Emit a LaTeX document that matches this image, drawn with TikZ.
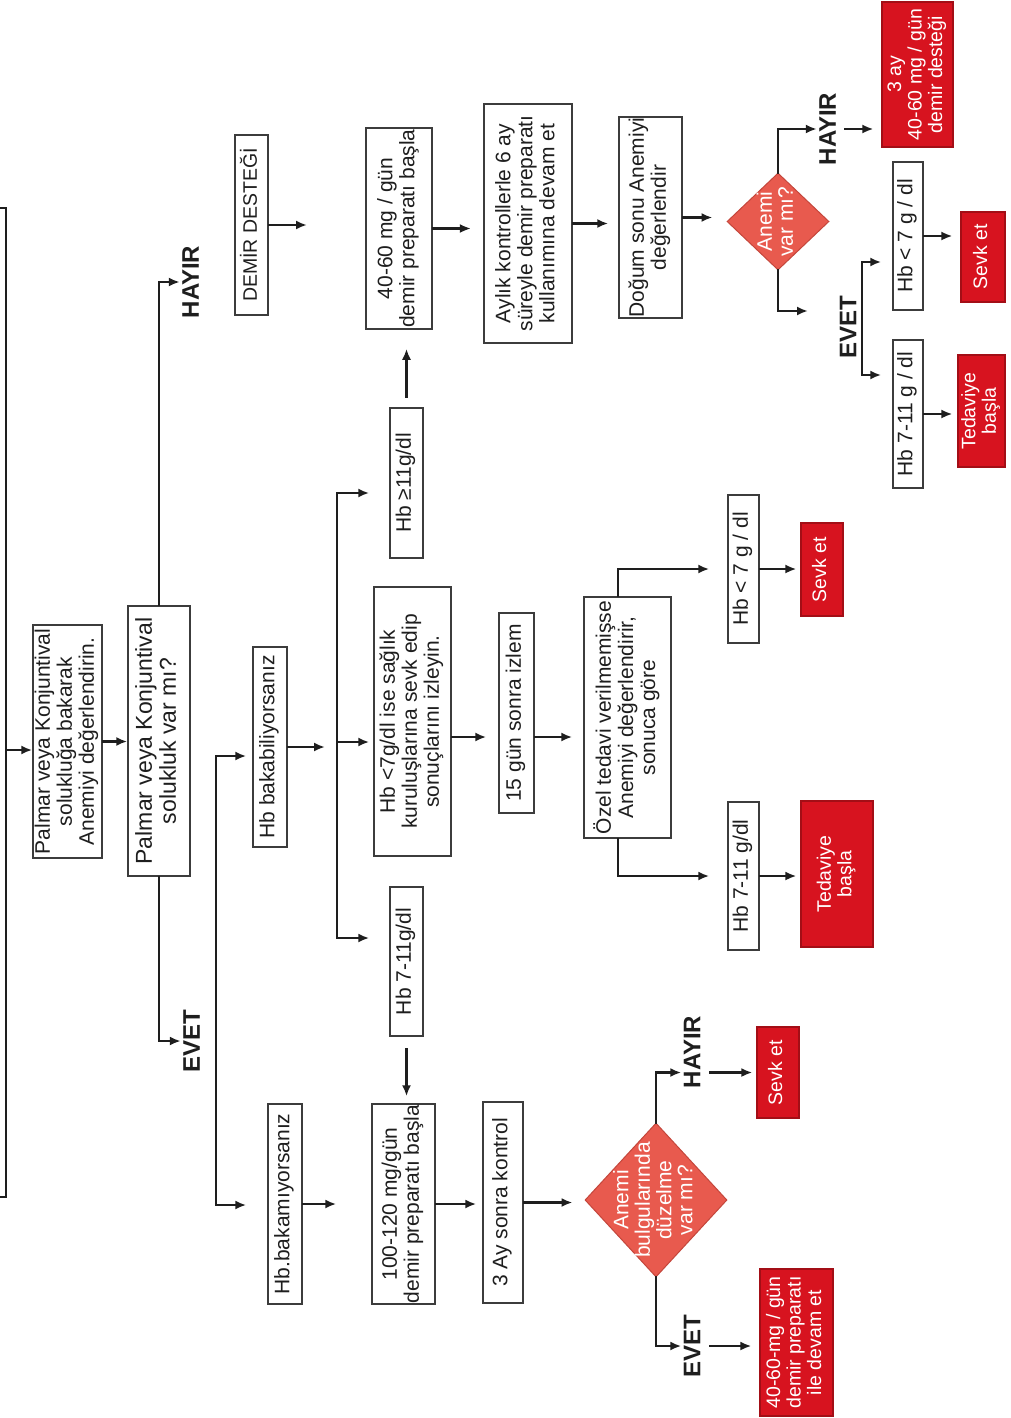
\documentclass[tikz,border=0pt]{standalone}
\usepackage{fontspec}
\setmainfont{Liberation Sans}
\usetikzlibrary{shapes.geometric,arrows.meta,calc}
\definecolor{ink}{HTML}{1E1E1E}
\definecolor{edge}{HTML}{3C3C3C}
\definecolor{alarm}{HTML}{D7131F}
\definecolor{alarmdark}{HTML}{A30E16}
\definecolor{coral}{HTML}{E85A4E}
\definecolor{coraldark}{HTML}{C4463B}
\newcommand{\rt}[1]{\rotatebox{90}{\begin{tabular}{@{}c@{}}#1\end{tabular}}}

\begin{document}
\begin{tikzpicture}[
      x=1pt, y=-1pt,
      box/.style={rectangle, draw=edge, line width=1.5pt, fill=white, text=ink,
                  inner sep=0pt, font=\fontsize{21}{22}\selectfont},
      redbox/.style={rectangle, draw=alarmdark, line width=1.2pt, fill=alarm, text=white,
                     inner sep=0pt, font=\fontsize{19.5}{20.5}\selectfont},
      ask/.style={diamond, draw=coraldark, line width=1pt, fill=coral, inner sep=0pt},
      asktext/.style={text=white, inner sep=0pt, font=\fontsize{21}{21}\selectfont},
      tag/.style={inner sep=2pt, text=ink, font=\fontsize{24}{24}\selectfont\bfseries},
      sz/.style 2 args={minimum width=#1pt, minimum height=#2pt},
      wire/.style={line width=2.4pt, draw=ink, line cap=rect},
      arr/.style={wire, -{Latex[length=11pt,width=9pt]}}
    ]
      \useasboundingbox (0,0) rectangle (1010,1418);
      \fill[white] (0,0) rectangle (1010,1418);

      \node[box, sz={69}{233}] (p1) at (67.5,741.5) {\rt{Palmar veya Konjuntival\\solukluğa bakarak\\Anemiyi değerlendirin.}};
      \node[box, sz={62}{270}, font=\fontsize{23}{24}\selectfont] (p2) at (159,741) {\rt{Palmar veya Konjuntival\\solukluk var mı?}};
      \node[tag] (h1) at (194,282) {\rt{HAYIR}};
      \node[tag] (e1) at (195,1041) {\rt{EVET}};
      \node[box, sz={33}{180}, font=\fontsize{19.5}{20}\selectfont] (dd) at (251.5,225) {\rt{DEMİR DESTEĞİ}};
      \node[box, sz={34}{200}] (hbb) at (270,747) {\rt{Hb bakabiliyorsanız}};
      \node[box, sz={34}{200}] (hbn) at (285,1204) {\rt{Hb.bakamıyorsanız}};

      \node[box, sz={66}{201}] (b40) at (399,228.5) {\rt{40-60 mg / gün\\demir preparatı başla}};
      \node[box, sz={33}{150}] (g11) at (406.5,483) {\rt{Hb ≥11g/dl}};
      \node[box, sz={77}{269}] (g7) at (412.5,721.5) {\rt{Hb <7g/dl ise sağlık\\kuruluşlarına sevk edip\\sonuçlarını izleyin.}};
      \node[box, sz={33}{149}] (g711) at (406.5,961.5) {\rt{Hb 7-11g/dl}};
      \node[box, sz={63}{200}] (b100) at (403.5,1204) {\rt{100-120 mg/gün\\demir preparatı başla}};

      \node[box, line width=2.2pt, sz={88}{239}] (ak) at (528,223.5) {\rt{Aylık kontrollerle 6 ay\\süreyle demir preparatı\\kullanımına devam et}};
      \node[box, sz={35}{200}] (iz) at (516.5,713) {\rt{15 gün sonra izlem}};
      \node[box, sz={40}{201}] (ak3) at (503,1202.5) {\rt{3 Ay sonra kontrol}};

      \node[box, sz={63}{201}] (ds) at (650.5,217.5) {\rt{Doğum sonu Anemiyi\\değerlendir}};
      \node[box, sz={87}{241}] (oz) at (627.5,717.5) {\rt{Özel tedavi verilmemişse\\Anemiyi değerlendirir,\\sonuca göre}};
      \node[ask, sz={102}{97}] (d1) at (778,221.5) {};
      \node[asktext] (d1t) at (d1) {\rt{Anemi\\var mı?}};
      \node[ask, sz={142}{154}] (d2) at (656,1200) {};
      \node[asktext] (d2t) at (d2) {\rt{Anemi\\bulgularında\\düzelme\\var mı?}};

      \node[box, sz={31}{148}] (hb7b) at (743.5,569) {\rt{Hb < 7 g / dl}};
      \node[box, sz={31}{148}] (hb711b) at (743.5,876) {\rt{Hb 7-11 g/dl}};
      \node[redbox, sz={42}{93}] (sv2) at (822,569.5) {\rt{Sevk et}};
      \node[redbox, sz={72}{146}] (td2) at (837,874) {\rt{Tedaviye\\başla}};
      \node[tag] (h3) at (695.5,1052) {\rt{HAYIR}};
      \node[tag] (e3) at (695.5,1346) {\rt{EVET}};
      \node[redbox, sz={42}{91}] (sv3) at (778,1072.5) {\rt{Sevk et}};
      \node[redbox, sz={73}{147}] (r2) at (796.5,1342.5) {\rt{40-60-mg / gün\\demir preparatı\\ile devam et}};

      \node[tag] (h2) at (831,129) {\rt{HAYIR}};
      \node[tag] (e2) at (851.5,327.5) {\rt{EVET}};
      \node[redbox, sz={71}{145}] (r1) at (917.5,74.5) {\rt{3 ay\\40-60 mg / gün\\demir desteği}};
      \node[box, sz={30}{148}] (hb7a) at (908,236) {\rt{Hb < 7 g / dl}};
      \node[box, sz={30}{148}] (hb711a) at (908,414) {\rt{Hb 7-11 g / dl}};
      \node[redbox, sz={44}{90}] (sv1) at (983,257) {\rt{Sevk et}};
      \node[redbox, sz={47}{112}] (td1) at (981.5,411) {\rt{Tedaviye\\başla}};

      \coordinate (src) at (6,750);
      \coordinate (ddtip) at (307,225);
      \coordinate (k1a) at (216,756);
      \coordinate (k1b) at (216,1205);
      \coordinate (k2a) at (337,493);
      \coordinate (k2m) at (337,742);
      \coordinate (k2b) at (337,938);
      \coordinate (row) at (0,737);
      \coordinate (zx) at (618,0);
      \coordinate (d1e) at (808,311);
      \coordinate (k3a) at (862,262);
      \coordinate (k3b) at (862,375);

      \draw[wire] (0,208) -| (6,1197) -- (0,1197);
      \draw[arr] (src) -- (src -| p1.west);
      \draw[arr] (p1.east) -- (p1.east -| p2.west);
      \draw[arr] (p2.north) |- (h1.west);
      \draw[arr] (p2.south) |- (e1.west);
      \draw[arr] (dd.east) -- (ddtip);

      \draw[arr, shorten >=6pt] (k1b) |- (k1a -| hbb.west);
      \draw[arr, shorten >=21pt] (k1b) -- (k1b -| hbn.west);
      \draw[arr, shorten >=12pt] (hbb.east) -- (hbb.east -| k2a);
      \draw[arr, shorten >=20pt] (k2b) |- (k2a -| g11.west);
      \draw[arr, shorten >=4pt] (k2m) -- (k2m -| g7.west);
      \draw[arr, shorten >=20pt] (k2b) -- (k2b -| g711.west);

      \draw[arr, shorten <=10pt, shorten >=19pt] (g11.north) -- (g11.north |- b40.south);
      \draw[arr, shorten >=12pt] (b40.east) -- (b40.east -| ak.west);
      \draw[arr, shorten >=10pt] (ak.east) -- (ak.east -| ds.west);
      \draw[arr, shorten >=14pt] (ds.east) -- (ds.east -| d1.west);
      \draw[arr] (d1.north) |- (h2.west);
      \draw[arr, shorten >=8pt] (h2.east) -- (h2.east -| r1.west);
      \draw[arr] (d1.south) |- (d1e);
      \draw[arr, shorten >=11pt] (k3b) |- (k3a -| hb7a.west);
      \draw[arr, shorten >=11pt] (k3b) -- (k3b -| hb711a.west);
      \draw[arr, shorten >=8pt] (hb7a.east) -- (hb7a.east -| sv1.west);
      \draw[arr, shorten >=5pt] (hb711a.east) -- (hb711a.east -| td1.west);

      \draw[arr, shorten >=12pt] (g7.east |- row) -- (iz.west |- row);
      \draw[arr, shorten >=11pt] (iz.east |- row) -- (oz.west |- row);
      \draw[arr, shorten >=18pt] (zx |- oz.north) |- (hb7b.west);
      \draw[arr, shorten >=18pt] (zx |- oz.south) |- (hb711b.west);
      \draw[arr, shorten >=4pt] (hb7b.east) -- (hb7b.east -| sv2.west);
      \draw[arr, shorten >=4pt] (hb711b.east) -- (hb711b.east -| td2.west);

      \draw[arr, shorten >=35pt] (hbn.east) -- (hbn.east -| b100.west);
      \draw[arr, shorten <=12pt, shorten >=7pt] (g711.south) -- (g711.south |- b100.north);
      \draw[arr, shorten >=6pt] (b100.east) -- (b100.east -| ak3.west);
      \draw[arr, shorten >=12pt] (ak3.east) -- (ak3.east -| d2.west);
      \draw[arr] (d2.north) |- (h3.west |- sv3.west);
      \draw[arr, shorten >=4pt] (h3.east |- sv3.west) -- (sv3.west);
      \draw[arr] (d2.south) |- (e3.west);
      \draw[arr, shorten >=8pt] (e3.east) -- (e3.east -| r2.west);
    \end{tikzpicture}
\end{document}
